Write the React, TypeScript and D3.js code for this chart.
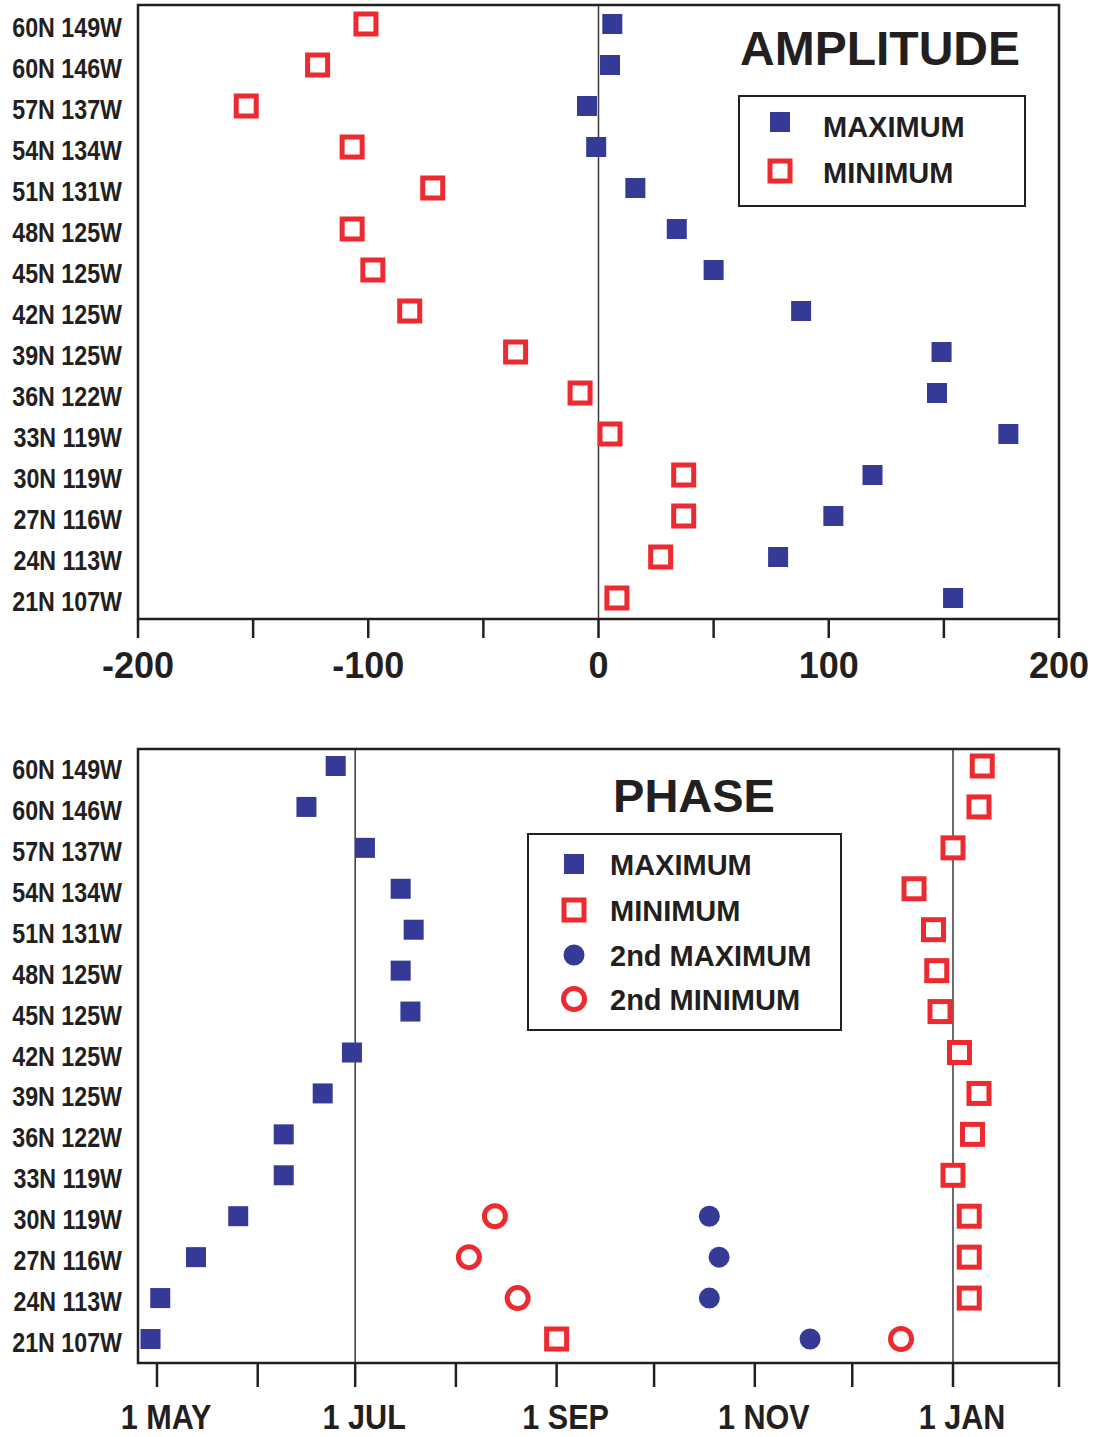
import React from "react";
import * as d3 from "d3";

const stations = [
  "60N 149W", "60N 146W", "57N 137W", "54N 134W", "51N 131W",
  "48N 125W", "45N 125W", "42N 125W", "39N 125W", "36N 122W",
  "33N 119W", "30N 119W", "27N 116W", "24N 113W", "21N 107W",
];

// Amplitude panel
const ampMax = [6, 5, -5, -1, 16, 34, 50, 88, 149, 147, 178, 119, 102, 78, 154];
const ampMin = [-101, -122, -153, -107, -72, -107, -98, -82, -36, -8, 5, 37, 37, 27, 8];
const ampTicks = [-200, -150, -100, -50, 0, 50, 100, 150, 200];
const ampTickLabels = [-200, -100, 0, 100, 200];

// Phase panel (day of year, counting on past 31 Dec: 1 JAN = 366)
const phaseMax = [176, 167, 185, 196, 200, 196, 199, 181, 172, 160, 160, 146, 133, 122, 119];
const phaseMin = [375, 374, 366, 354, 360, 361, 362, 368, 374, 372, 366, 371, 371, 371, 244];
const phase2Stations = ["30N 119W", "27N 116W", "24N 113W", "21N 107W"];
const phase2Max = [291, 294, 291, 322];
const phase2Min = [225, 217, 232, 350];
const monthStarts = [121, 152, 182, 213, 244, 274, 305, 335, 366];
const monthLabels = [
  { day: 121, label: "1 MAY" },
  { day: 182, label: "1 JUL" },
  { day: 244, label: "1 SEP" },
  { day: 305, label: "1 NOV" },
  { day: 366, label: "1 JAN" },
];
const phaseRefLines = [182, 366];

const BLUE = "#343a96";
const RED = "#ec2a2f";
const INK = "#231f20";
const FONT = "'Liberation Sans', Arial, Helvetica, sans-serif";

const L = 138;
const R = 1059;

function FilledSquare({ x, y }: { x: number; y: number }) {
  return <rect x={x - 10} y={y - 10} width={20} height={20} fill={BLUE} />;
}
function OpenSquare({ x, y }: { x: number; y: number }) {
  return <rect x={x - 10} y={y - 10} width={20} height={20} fill="white" stroke={RED} strokeWidth={5} />;
}
function FilledCircle({ x, y }: { x: number; y: number }) {
  return <circle cx={x} cy={y} r={10.5} fill={BLUE} />;
}
function OpenCircle({ x, y }: { x: number; y: number }) {
  return <circle cx={x} cy={y} r={10.5} fill="white" stroke={RED} strokeWidth={5} />;
}

function StationLabels({ y }: { y: d3.ScalePoint<string> }) {
  return (
    <g>
      {stations.map((s) => (
        <g key={s} transform={`translate(122,${(y(s) as number) + 13}) scale(0.83,1)`}>
          <text textAnchor="end" fontSize={28} fontWeight="bold" fill={INK} fontFamily={FONT}>
            {s}
          </text>
        </g>
      ))}
    </g>
  );
}

export default function App() {
  // ---------- Amplitude ----------
  const aTop = 5;
  const aBot = 619;
  const xA = d3.scaleLinear().domain([-200, 200]).range([L, R]);
  const yA = d3.scalePoint<string>().domain(stations).range([24, 598]);

  // ---------- Phase ----------
  const pTop = 749;
  const pBot = 1363;
  const dayPx = (953 - 157) / (366 - 121);
  const d0 = 121 - (157 - L) / dayPx;
  const d1 = 121 + (R - 157) / dayPx;
  const xP = d3.scaleLinear().domain([d0, d1]).range([L, R]);
  const yP = d3.scalePoint<string>().domain(stations).range([766, 1339]);
  const phaseTicks = [...monthStarts, d1];

  return (
    <svg width={1099} height={1437} style={{ display: "block", position: "absolute", left: 0, top: 0 }} fontFamily={FONT}>
      <rect width={1099} height={1437} fill="white" />

      {/* ===== AMPLITUDE PANEL ===== */}
      <line x1={xA(0)} x2={xA(0)} y1={aTop} y2={aBot} stroke="#3a3a3a" strokeWidth={1.5} />
      {ampTicks.map((t) => (
        <line key={t} x1={xA(t)} x2={xA(t)} y1={aBot} y2={638} stroke={INK} strokeWidth={2.5} />
      ))}
      {ampTickLabels.map((t) => (
        <text key={t} x={xA(t)} y={678} textAnchor="middle" fontSize={36} fontWeight="bold" fill={INK}>
          {t}
        </text>
      ))}
      <StationLabels y={yA} />
      {stations.map((s, i) => (
        <OpenSquare key={"amin" + s} x={xA(ampMin[i])} y={yA(s) as number} />
      ))}
      {stations.map((s, i) => (
        <FilledSquare key={"amax" + s} x={xA(ampMax[i])} y={yA(s) as number} />
      ))}
      <text x={880} y={65} textAnchor="middle" fontSize={48} fontWeight="bold" fill={INK}>
        AMPLITUDE
      </text>
      <rect x={739} y={96} width={286} height={110} fill="none" stroke={INK} strokeWidth={2} />
      <FilledSquare x={780} y={122} />
      <text x={823} y={137} fontSize={29} fontWeight="bold" fill={INK}>MAXIMUM</text>
      <OpenSquare x={780} y={171} />
      <text x={823} y={183} fontSize={29} fontWeight="bold" fill={INK}>MINIMUM</text>
      <rect x={L} y={aTop} width={R - L} height={aBot - aTop} fill="none" stroke={INK} strokeWidth={2.5} />

      {/* ===== PHASE PANEL ===== */}
      {phaseRefLines.map((d) => (
        <line key={d} x1={xP(d)} x2={xP(d)} y1={pTop} y2={pBot} stroke="#3a3a3a" strokeWidth={1.5} />
      ))}
      {phaseTicks.map((t) => (
        <line key={t} x1={xP(t)} x2={xP(t)} y1={pBot} y2={1387} stroke={INK} strokeWidth={2.5} />
      ))}
      {monthLabels.map((m) => (
        <g key={m.label} transform={`translate(${xP(m.day) + 9},1429) scale(0.85,1)`}>
          <text textAnchor="middle" fontSize={36} fontWeight="bold" fill={INK}>
            {m.label}
          </text>
        </g>
      ))}
      <StationLabels y={yP} />
      {stations.map((s, i) => (
        <OpenSquare key={"pmin" + s} x={xP(phaseMin[i])} y={yP(s) as number} />
      ))}
      {stations.map((s, i) => (
        <FilledSquare key={"pmax" + s} x={xP(phaseMax[i])} y={yP(s) as number} />
      ))}
      {phase2Stations.map((s, i) => (
        <OpenCircle key={"p2min" + s} x={xP(phase2Min[i])} y={yP(s) as number} />
      ))}
      {phase2Stations.map((s, i) => (
        <FilledCircle key={"p2max" + s} x={xP(phase2Max[i])} y={yP(s) as number} />
      ))}
      <text x={694} y={812} textAnchor="middle" fontSize={47} fontWeight="bold" fill={INK}>
        PHASE
      </text>
      <rect x={528} y={834} width={313} height={196} fill="none" stroke={INK} strokeWidth={2} />
      <FilledSquare x={574} y={864} />
      <text x={610} y={875} fontSize={29} fontWeight="bold" fill={INK}>MAXIMUM</text>
      <OpenSquare x={574} y={910} />
      <text x={610} y={921} fontSize={29} fontWeight="bold" fill={INK}>MINIMUM</text>
      <FilledCircle x={574} y={955} />
      <text x={610} y={966} fontSize={29} fontWeight="bold" fill={INK}>2nd MAXIMUM</text>
      <OpenCircle x={574} y={999} />
      <text x={610} y={1010} fontSize={29} fontWeight="bold" fill={INK}>2nd MINIMUM</text>
      <rect x={L} y={pTop} width={R - L} height={pBot - pTop} fill="none" stroke={INK} strokeWidth={2.5} />
    </svg>
  );
}
